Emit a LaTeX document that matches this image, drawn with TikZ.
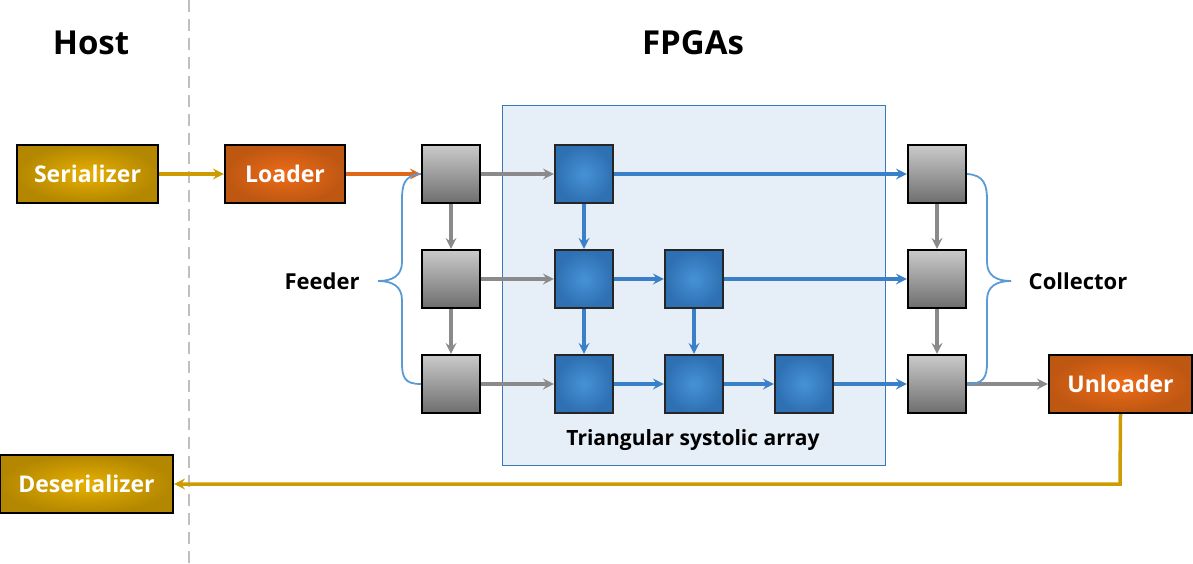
\documentclass[tikz,border=0pt]{standalone}
\usepackage{fontspec}
\setmainfont{Open Sans}
\usetikzlibrary{arrows.meta,shadings}
\definecolor{goldC}{HTML}{E8B000}
\definecolor{goldE}{HTML}{B38700}
\definecolor{orC}{HTML}{EE6C18}
\definecolor{orE}{HTML}{BE5712}
\definecolor{blC}{HTML}{4692D6}
\definecolor{blE}{HTML}{2E70B2}
\definecolor{grT}{HTML}{CACACA}
\definecolor{grB}{HTML}{6E6E6E}
\definecolor{panel}{HTML}{E6EEF8}
\definecolor{panelB}{HTML}{3A78B8}
\definecolor{arrG}{HTML}{8A8A8A}
\definecolor{arrB}{HTML}{3A80C8}
\definecolor{brace}{HTML}{5B9BD5}
\definecolor{goldL}{HTML}{CC9C00}
\definecolor{orL}{HTML}{E0661A}
\begin{document}
\begin{tikzpicture}[x=1pt,y=-1pt,
  hostbox/.style={draw=black,line width=2.2pt,inner sep=0pt,minimum height=58pt,text=white,font=\bfseries\fontsize{23}{27}\selectfont},
  goldbox/.style={hostbox,inner color=goldC,outer color=goldE},
  orbox/.style={hostbox,inner color=orC,outer color=orE},
  graysq/.style={draw=black,line width=2.2pt,minimum width=58pt,minimum height=58pt,inner sep=0pt,top color=grT,bottom color=grB},
  bluesq/.style={draw=black!85,line width=2.2pt,minimum width=58pt,minimum height=58pt,inner sep=0pt,inner color=blC,outer color=blE},
  garr/.style={draw=arrG,line width=3.5pt,-{Stealth[length=11pt,width=11pt,inset=4pt]}},
  barr/.style={draw=arrB,line width=3.5pt,-{Stealth[length=11pt,width=11pt,inset=4pt]}},
  oarr/.style={draw=orL,line width=3.5pt,-{Stealth[length=11pt,width=11pt,inset=4pt]}},
  yarr/.style={draw=goldL,line width=3.5pt,-{Stealth[length=11pt,width=11pt,inset=4pt]}},
  bracestyle/.style={draw=brace,line width=1.8pt},
  lbl/.style={font=\bfseries\fontsize{22}{26}\selectfont},
  title/.style={font=\bfseries\fontsize{33}{40}\selectfont}
]
\useasboundingbox (0,0) rectangle (1193,563);
% panel
\node[draw=panelB,line width=0.8pt,fill=panel,minimum width=383pt,minimum height=360pt,inner sep=0pt,anchor=north west] (panelbox) at (502,105) {};
\node[font=\bfseries\fontsize{21}{25}\selectfont] (tsa) at (693,440) {Triangular systolic array};
% dashed separator
\coordinate (dtop) at (189,0);
\coordinate (dbot) at (189,563);
\draw[draw=black!25,line width=2pt,dash pattern=on 12pt off 7pt] (dtop) -- (dbot);
% titles
\node[title] (host) at (91,43) {Host};
\node[title] (fpga) at (693,43) {FPGAs};
% host boxes
\node[goldbox,minimum width=141pt] (ser) at (87.5,174) {Serializer};
\node[orbox,minimum width=120pt] (load) at (285,174) {Loader};
\node[goldbox,minimum width=173pt] (deser) at (86.5,484) {Deserializer};
\node[orbox,minimum width=143pt] (unl) at (1120.5,384) {Unloader};
% squares
\foreach \r/\y in {1/174,2/279,3/384}{
  \node[graysq] (L\r) at (451,\y) {};
  \node[graysq] (R\r) at (937,\y) {};
}
\node[bluesq] (b11) at (584,174) {};
\node[bluesq] (b21) at (584,279) {};
\node[bluesq] (b22) at (694,279) {};
\node[bluesq] (b31) at (584,384) {};
\node[bluesq] (b32) at (694,384) {};
\node[bluesq] (b33) at (804,384) {};
% arrows
\draw[yarr] (ser) -- (load);
\draw[oarr] (load) -- (L1);
\foreach \r in {1,2,3}{\draw[garr] (L\r) -- (b\r1);}
\draw[garr] (L1) -- (L2);
\draw[garr] (L2) -- (L3);
\draw[garr] (R1) -- (R2);
\draw[garr] (R2) -- (R3);
\draw[garr] (R3) -- (unl);
\draw[barr] (b11) -- (R1);
\draw[barr] (b11) -- (b21);
\draw[barr] (b21) -- (b31);
\draw[barr] (b22) -- (b32);
\draw[barr] (b21) -- (b22);
\draw[barr] (b22) -- (R2);
\draw[barr] (b31) -- (b32);
\draw[barr] (b32) -- (b33);
\draw[barr] (b33) -- (R3);
\coordinate (corner) at (1120,484);
\draw[yarr] (unl.south) -- (corner) -- (deser.east);
% braces
\draw[bracestyle] (L1.west) .. controls (404,175) and (402,185) .. (402,200) -- (402,262) .. controls (402,276) and (392,281) .. (378,281);
\draw[bracestyle] (378,281) .. controls (392,281) and (402,286) .. (402,300) -- (402,362) .. controls (402,377) and (404,384) .. (L3.west);
\draw[bracestyle] (R1.east) .. controls (984,175) and (987,185) .. (987,200) -- (987,262) .. controls (987,276) and (997,281) .. (1011,281);
\draw[bracestyle] (1011,281) .. controls (997,281) and (987,286) .. (987,300) -- (987,362) .. controls (987,377) and (984,384) .. (R3.east);
\node[lbl] (feeder) at (322,281) {Feeder};
\node[lbl] (coll) at (1078,281) {Collector};
\end{tikzpicture}
\end{document}
